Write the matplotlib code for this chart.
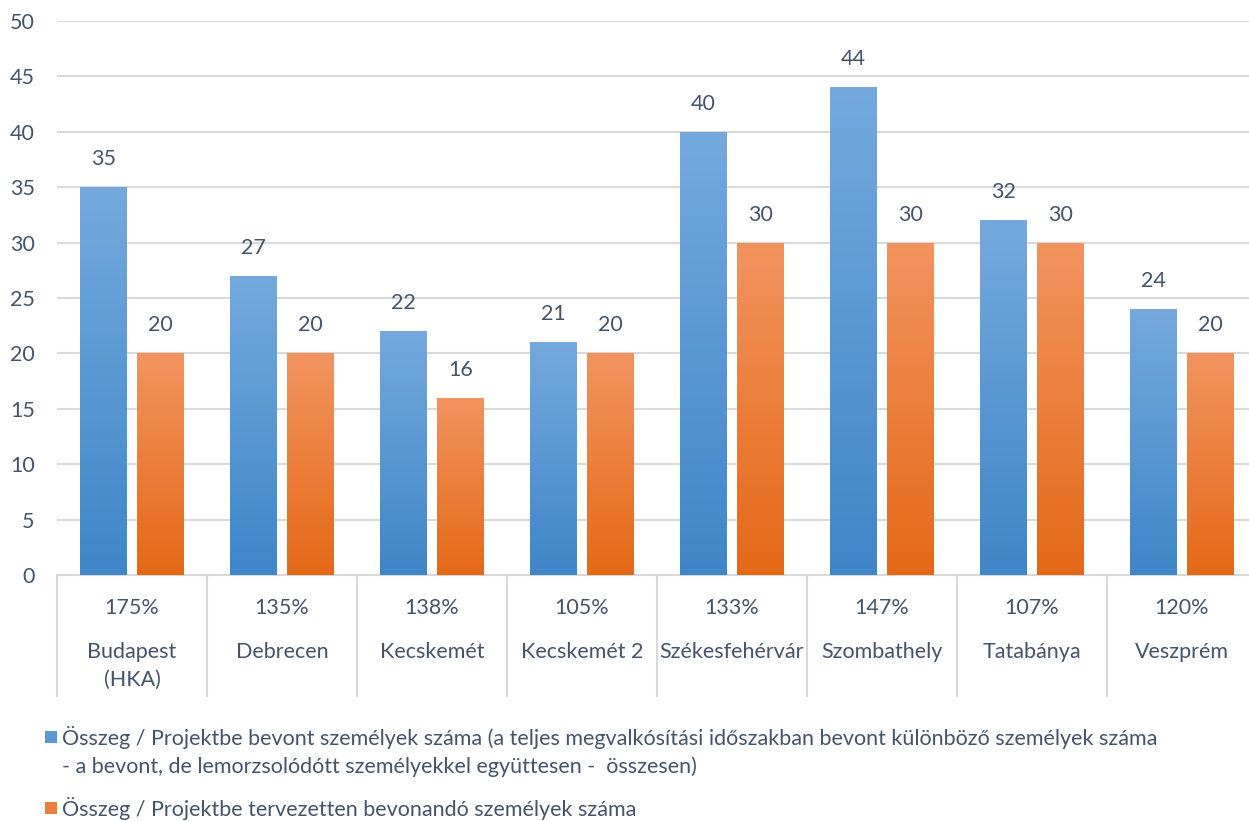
import numpy as np
import matplotlib
matplotlib.use("Agg")
import matplotlib.pyplot as plt
from matplotlib.patches import Rectangle
from matplotlib.colors import LinearSegmentedColormap

# adatok
cities = ["Budapest\n(HKA)", "Debrecen", "Kecskemét", "Kecskemét 2",
          "Székesfehérvár", "Szombathely", "Tatabánya", "Veszprém"]
ratios = ["175%", "135%", "138%", "105%", "133%", "147%", "107%", "120%"]
involved = [35, 27, 22, 21, 40, 44, 32, 24]
planned = [20, 20, 16, 20, 30, 30, 30, 20]
series_names = [
    "Összeg / Projektbe bevont személyek száma (a teljes megvalkósítási időszakban bevont különböző személyek száma\n"
    "- a bevont, de lemorzsolódótt személyekkel együttesen -  összesen)",
    "Összeg / Projektbe tervezetten bevonandó személyek száma",
]

TEXT = "#44546A"
GRID = "#D9D9D9"
FS = 15.5
blue_cm = LinearSegmentedColormap.from_list("b", ["#3F86C8", "#74A9DD"])
orange_cm = LinearSegmentedColormap.from_list("o", ["#E46917", "#F29460"])

plt.rcParams["font.family"] = ["Lato", "DejaVu Sans"]

W, H = 1249, 821
fig = plt.figure(figsize=(W / 100, H / 100), dpi=100)
ax = fig.add_axes([57 / W, (H - 575) / H, 1200 / W, 554 / H])

x = np.arange(len(cities))
bw = 0.313
off = 0.192


def gradient_bars(xs, vals, cmap):
    bars = ax.bar(xs, vals, width=bw, color="none", zorder=3)
    grad = np.linspace(0, 1, 256).reshape(-1, 1)
    for b in bars:
        x0, w, h = b.get_x(), b.get_width(), b.get_height()
        im = ax.imshow(grad, cmap=cmap, aspect="auto", origin="lower",
                       extent=[x0, x0 + w, 0, h], zorder=3)
        im.set_clip_path(b)
    for xi, v in zip(xs, vals):
        ax.annotate(str(v), (xi, v), xytext=(0, 28), textcoords="offset pixels",
                    ha="center", va="center", fontsize=FS, color=TEXT)
    return bars


gradient_bars(x - off, involved, blue_cm)
gradient_bars(x + off, planned, orange_cm)

ax.set_xlim(-0.5, 7.5)
ax.set_ylim(0, 50)
ax.set_yticks(range(0, 51, 5))
ax.yaxis.grid(True, color=GRID, linewidth=1.5, zorder=0)
ax.set_axisbelow(True)
for s in ["left", "right", "top"]:
    ax.spines[s].set_visible(False)
ax.spines["bottom"].set_color(GRID)
ax.spines["bottom"].set_linewidth(1.5)
ax.tick_params(axis="y", length=0, pad=16, labelsize=FS, labelcolor=TEXT)
ax.set_xticks([])

# többszintű kategória tengely
ax.vlines(np.arange(-0.5, 8, 1), 0, -122 / 554, transform=ax.get_xaxis_transform(),
          colors=GRID, linewidth=1.5, clip_on=False)
for xi, r, c in zip(x, ratios, cities):
    ax.annotate(r, (xi, 0), xycoords=("data", "axes fraction"), xytext=(0, -33),
                textcoords="offset pixels", ha="center", va="center",
                fontsize=FS, color=TEXT)
    for k, line in enumerate(c.split("\n")):
        ax.annotate(line, (xi, 0), xycoords=("data", "axes fraction"),
                    xytext=(0, -77 - 28 * k), textcoords="offset pixels",
                    ha="center", va="center", fontsize=FS, color=TEXT)

# jelmagyarázat
leg_y = [737, 808]
for name, cmap, y0 in zip(series_names, [blue_cm, orange_cm], leg_y):
    fig.patches.append(Rectangle((45 / W, 1 - (y0 + 6) / H), 12 / W, 12 / H,
                                 transform=fig.transFigure, facecolor=cmap(0.5),
                                 edgecolor="none"))
    for k, line in enumerate(name.split("\n")):
        fig.text(62 / W, 1 - (y0 + 30 * k) / H, line, ha="left", va="center",
                 fontsize=FS, color=TEXT)

fig.savefig("out.png", dpi=100)
